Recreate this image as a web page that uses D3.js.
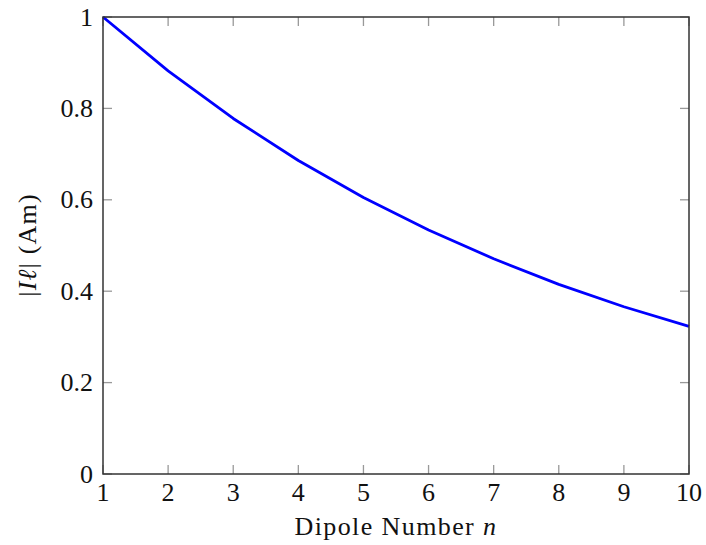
<!DOCTYPE html>
<html><head><meta charset="utf-8">
<script src="https://cdn.jsdelivr.net/npm/d3@7"></script>
<style>body{margin:0;background:#fff}svg{display:block}text{font-family:"Liberation Serif","DejaVu Serif",serif;fill:#111}</style>
</head><body><svg id="c" width="706" height="545"></svg>
<script>
const dipoles = [1,2,3,4,5,6,7,8,9,10];
const magnitude = [1.000,0.882,0.778,0.686,0.605,0.534,0.471,0.415,0.366,0.323];
const xTicks = [1,2,3,4,5,6,7,8,9,10];
const yTicks = [0,0.2,0.4,0.6,0.8,1];
const m = {l:103,t:17,r:689,b:474};
const svg = d3.select("#c");
const x = d3.scaleLinear().domain([1,10]).range([m.l,m.r]);
const y = d3.scaleLinear().domain([0,1]).range([m.b,m.t]);
const tl = 9;
const g = svg.append("g");
xTicks.forEach(t=>{
  g.append("line").attr("x1",x(t)).attr("x2",x(t)).attr("y1",m.b).attr("y2",m.b-tl).attr("stroke","#999").attr("stroke-width",1.3);
  g.append("line").attr("x1",x(t)).attr("x2",x(t)).attr("y1",m.t).attr("y2",m.t+tl).attr("stroke","#999").attr("stroke-width",1.3);
  g.append("text").attr("x",x(t)).attr("y",501).attr("text-anchor","middle").attr("font-size",26).text(t);
});
yTicks.forEach(t=>{
  g.append("line").attr("x1",m.l).attr("x2",m.l+tl).attr("y1",y(t)).attr("y2",y(t)).attr("stroke","#999").attr("stroke-width",1.3);
  g.append("line").attr("x1",m.r).attr("x2",m.r-tl).attr("y1",y(t)).attr("y2",y(t)).attr("stroke","#999").attr("stroke-width",1.3);
  g.append("text").attr("x",93).attr("y",y(t)+8.5).attr("text-anchor","end").attr("font-size",26).text(d3.format("~g")(t));
});
const line = d3.line().x((d,i)=>x(dipoles[i])).y(d=>y(d));
svg.append("path").datum(magnitude).attr("d",line).attr("fill","none").attr("stroke","#0000ff").attr("stroke-width",2.8).attr("stroke-linejoin","round");
svg.append("rect").attr("x",m.l).attr("y",m.t).attr("width",m.r-m.l).attr("height",m.b-m.t).attr("fill","none").attr("stroke","#333").attr("stroke-width",1.5);
const xl = svg.append("text").attr("x",(m.l+m.r)/2).attr("y",535).attr("text-anchor","middle").attr("font-size",26).attr("letter-spacing",1.4);
xl.append("tspan").text("Dipole Number ");
xl.append("tspan").attr("font-style","italic").text("n");
const yl = svg.append("text").attr("transform",`translate(36,245) rotate(-90)`).attr("text-anchor","middle").attr("font-size",26).attr("letter-spacing",1.2);
yl.append("tspan").text("|");
yl.append("tspan").attr("font-style","italic").text("Iℓ");
yl.append("tspan").text("| (Am)");
</script></body></html>
